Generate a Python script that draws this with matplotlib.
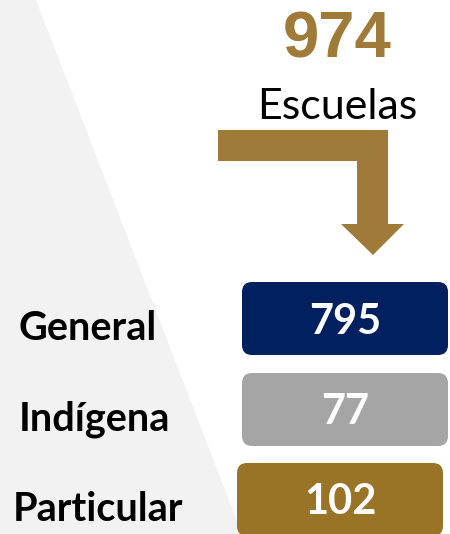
import matplotlib
matplotlib.use("Agg")
import matplotlib.pyplot as plt
from matplotlib.patches import Polygon, FancyBboxPatch

# data
total = 974
total_label = "Escuelas"
categories = ["General", "Indígena", "Particular"]
values = [795, 77, 102]
box_colors = ["#002060", "#A5A5A5", "#9A7426"]
gold = "#A07A38"

W, H = 450, 534
fig = plt.figure(figsize=(W / 100, H / 100), dpi=100)
ax = fig.add_axes([0, 0, 1, 1])
ax.set_xlim(0, W)
ax.set_ylim(H, 0)
ax.axis("off")

# gray diagonal band on the left
ax.add_patch(Polygon([(0, 0), (36, 0), (242, H), (0, H)],
                     closed=True, facecolor="#F2F2F2", edgecolor="none"))

# total on top
ax.text(337, 41, str(total), ha="center", va="center", fontsize=47,
        fontweight="bold", color=gold, family="Liberation Sans")
ax.text(337, 107, total_label, ha="center", va="center", fontsize=31,
        color="black", family="Lato")

# bent arrow
arrow = [(218, 130), (388, 130), (388, 224), (404, 224), (373, 255),
         (341, 224), (357, 224), (357, 161), (218, 161)]
ax.add_patch(Polygon(arrow, closed=True, facecolor=gold, edgecolor="none"))

# category boxes
box_x = [242, 242, 237]
box_top = [282, 373, 463]
box_w, box_h = 206, 73
label_x = [18, 19, 13]
for i, (cat, val) in enumerate(zip(categories, values)):
    x0, y0 = box_x[i], box_top[i]
    ax.add_patch(FancyBboxPatch((x0 + 10, y0 + 10), box_w - 20, box_h - 20,
                                boxstyle="round,pad=10", facecolor=box_colors[i],
                                edgecolor="none"))
    cy = y0 + box_h / 2
    ax.text(x0 + box_w / 2, cy + 3, str(val), ha="center", va="center",
            fontsize=30, fontweight="bold", color="white", family="Lato")
    ax.text(label_x[i], cy + 10, cat, ha="left", va="center", fontsize=28.5,
            fontweight="bold", color="black", family="Lato")

fig.savefig("out.png", dpi=100)
